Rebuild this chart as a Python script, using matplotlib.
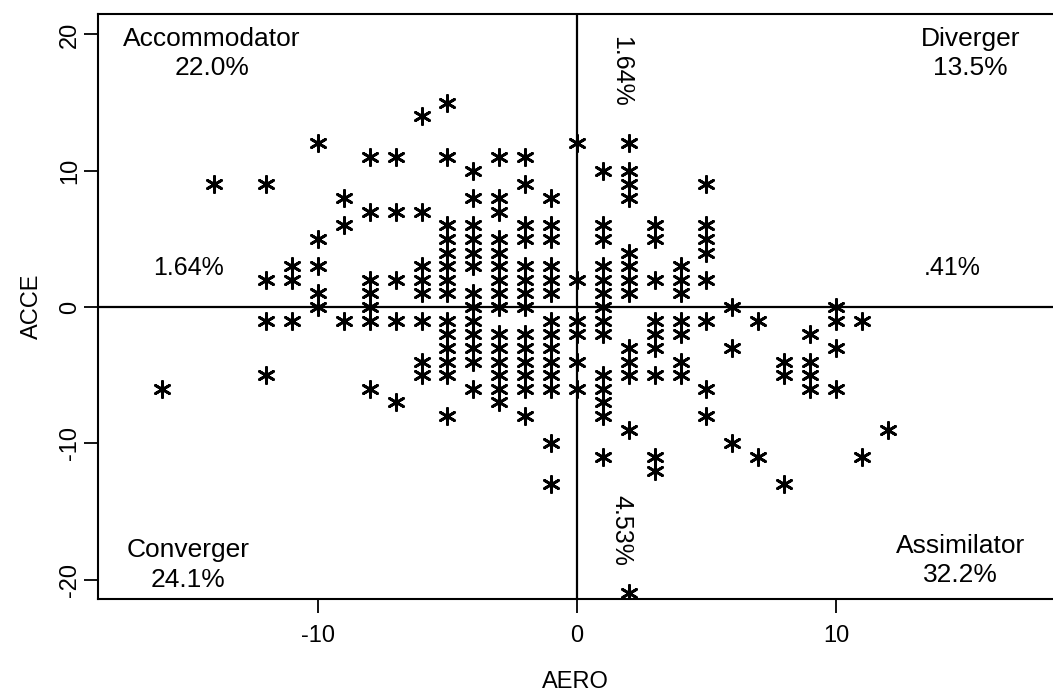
import matplotlib
matplotlib.use('Agg')
import matplotlib.pyplot as plt

plt.rcParams['font.family'] = ['Liberation Sans', 'DejaVu Sans']
plt.rcParams['axes.unicode_minus'] = False

# AERO (x) and ACCE (y) scores
aero = ([-16] + [-14] + [-12] * 4 + [-11] * 3 + [-10] * 5 + [-9] * 3 + [-8] * 7
        + [-7] * 5 + [-6] * 8 + [-5] * 14 + [-4] * 13 + [-3] * 15 + [-2] * 14
        + [-1] * 14 + [0] * 6 + [1] * 14 + [2] * 13 + [3] * 9 + [4] * 7 + [5] * 8
        + [6] * 3 + [7] * 2 + [8] * 3 + [9] * 4 + [10] * 4 + [11] * 2 + [12])
acce = [-6,
        9,
        9, 2, -1, -5,
        3, 2, -1,
        12, 5, 3, 1, 0,
        8, 6, -1,
        11, 7, 2, 1, 0, -1, -6,
        11, 7, 2, -1, -7,
        14, 7, 3, 2, 1, -1, -4, -5,
        15, 11, 6, 5, 4, 3, 2, 1, -1, -2, -3, -4, -5, -8,
        10, 8, 6, 5, 4, 3, 1, 0, -1, -2, -3, -4, -6,
        11, 8, 7, 5, 4, 3, 2, 1, 0, -2, -3, -4, -5, -6, -7,
        11, 9, 6, 5, 3, 2, 1, 0, -2, -3, -4, -5, -6, -8,
        8, 6, 5, 3, 2, 1, -1, -2, -3, -4, -5, -6, -10, -13,
        12, 2, -1, -2, -4, -6,
        10, 6, 5, 3, 2, 1, 0, -1, -2, -5, -6, -7, -8, -11,
        12, 10, 9, 8, 4, 3, 2, 1, -3, -4, -5, -9, -21,
        6, 5, 2, -1, -2, -3, -5, -11, -12,
        3, 2, 1, -1, -2, -4, -5,
        9, 6, 5, 4, 2, -1, -6, -8,
        0, -3, -10,
        -1, -11,
        -4, -5, -13,
        -2, -4, -5, -6,
        0, -1, -3, -6,
        -1, -11,
        -9]

quadrants = ['Accommodator\n22.0%', 'Diverger\n13.5%', 'Converger\n24.1%', 'Assimilator\n32.2%']
quad_pos = [(-14.1, 18.6), (15.2, 18.6), (-15.0, -18.9), (14.8, -18.6)]
axis_pcts = ['1.64%', '4.53%', '1.64%', '.41%']
axis_pos = [(1.7, 17.3), (1.7, -16.4), (-15.0, 2.9), (14.5, 2.9)]
axis_rot = [270, 270, 0, 0]

fig = plt.figure(figsize=(10.53, 6.95), dpi=100)
ax = fig.add_axes([98 / 1053, 1 - 599 / 695, 1 - 98 / 1053, (599 - 14) / 695])

ax.scatter(aero, acce, marker=(6, 2, 0), s=135, linewidths=2.0, color='black', zorder=3)

# quadrant dividers
ax.axhline(0, color='black', lw=1.6, zorder=2)
ax.axvline(0, color='black', lw=1.6, zorder=2)

for txt, (x, y) in zip(quadrants, quad_pos):
    ax.text(x, y, txt, ha='center', va='center', fontsize=19, linespacing=1.3)
for txt, (x, y), r in zip(axis_pcts, axis_pos, axis_rot):
    ax.text(x, y, txt, ha='center', va='center', fontsize=18, rotation=r)

ax.set_xlim(-18.49, 18.38)
ax.set_ylim(-21.42, 21.5)
ax.set_xticks([-10, 0, 10])
ax.set_yticks([-20, -10, 0, 10, 20])
ax.tick_params(axis='both', direction='out', length=10, width=1.3, labelsize=17)
ax.tick_params(axis='x', pad=9)
ax.tick_params(axis='y', pad=2)
for lbl in ax.get_yticklabels():
    lbl.set_rotation(90)
    lbl.set_va('center')

ax.spines['right'].set_visible(False)
for s in ['left', 'top', 'bottom']:
    ax.spines[s].set_linewidth(1.5)

ax.set_xlabel('AERO', fontsize=17, labelpad=17)
ax.set_ylabel('ACCE', fontsize=17, labelpad=12)

fig.savefig('out.png', dpi=100)
